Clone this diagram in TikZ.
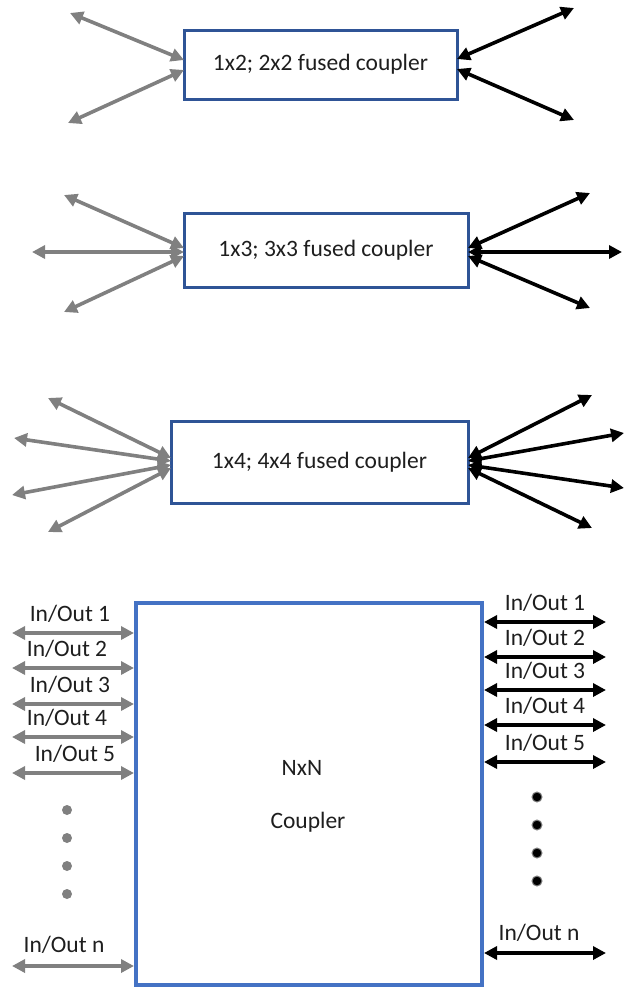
\documentclass[tikz,border=0pt]{standalone}
\usepackage{fontspec}
\setmainfont{Carlito}
\usetikzlibrary{arrows.meta}
\definecolor{boxblue}{RGB}{47,84,150}
\definecolor{bigblue}{RGB}{68,114,196}
\definecolor{arrgray}{RGB}{128,128,128}
\definecolor{txt}{RGB}{30,30,30}
\begin{document}
\begin{tikzpicture}[x=1pt,y=-1pt,
  cbox/.style={draw=boxblue, line width=3pt, inner sep=0pt, text=txt, font=\fontsize{23.5}{28}\selectfont},
  bigbox/.style={draw=bigblue, line width=4pt, inner sep=0pt},
  tip/.tip={Triangle[length=13pt,width=13pt]},
  garr/.style={draw=arrgray, line width=3.6pt, {tip}-{tip}},
  barr/.style={draw=black, line width=3.6pt, {tip}-{tip}},
  lbl/.style={inner sep=0pt, text=txt, font=\fontsize{23.5}{28}\selectfont},
  gdot/.style={circle, fill=arrgray, minimum size=10pt, inner sep=0pt},
  bdot/.style={circle, fill=black, draw=arrgray, line width=1pt, minimum size=10pt, inner sep=0pt}]
\useasboundingbox (0,0) rectangle (628,989);

% ---------- 1x2 coupler ----------
\node[cbox, minimum width=273pt, minimum height=69pt] (b1) at (320.5,64.5) {1x2; 2x2 fused coupler};
\coordinate (b1la) at (70,13);   \coordinate (b1lb) at (68,123);
\coordinate (b1ra) at (574,8);   \coordinate (b1rb) at (574,120);
\coordinate (b1wa) at (184,60);  \coordinate (b1wb) at (184,70);
\coordinate (b1ea) at (457,59);  \coordinate (b1eb) at (457,69);
\draw[garr] (b1la) -- (b1wa);
\draw[garr] (b1lb) -- (b1wb);
\draw[barr] (b1ea) -- (b1ra);
\draw[barr] (b1eb) -- (b1rb);

% ---------- 1x3 coupler ----------
\node[cbox, minimum width=284pt, minimum height=74pt] (b2) at (326,250) {1x3; 3x3 fused coupler};
\coordinate (b2wa) at (184,248); \coordinate (b2wb) at (184,252); \coordinate (b2wc) at (184,256);
\coordinate (b2ea) at (468,248); \coordinate (b2eb) at (468,252); \coordinate (b2ec) at (468,256);
\coordinate (b2la) at (64,195);  \coordinate (b2lb) at (32,252);  \coordinate (b2lc) at (64,312);
\coordinate (b2ra) at (590,193); \coordinate (b2rb) at (622,252); \coordinate (b2rc) at (590,308);
\draw[garr] (b2la) -- (b2wa);
\draw[garr] (b2lb) -- (b2wb);
\draw[garr] (b2lc) -- (b2wc);
\draw[barr] (b2ea) -- (b2ra);
\draw[barr] (b2eb) -- (b2rb);
\draw[barr] (b2ec) -- (b2rc);

% ---------- 1x4 coupler ----------
\node[cbox, minimum width=297pt, minimum height=82pt] (b3) at (319.5,462) {1x4; 4x4 fused coupler};
\coordinate (b3wa) at (171,458); \coordinate (b3wb) at (171,461);
\coordinate (b3wc) at (171,465); \coordinate (b3wd) at (171,468);
\coordinate (b3ea) at (468,458); \coordinate (b3eb) at (468,461);
\coordinate (b3ec) at (468,465); \coordinate (b3ed) at (468,468);
\coordinate (b3la) at (48,398);  \coordinate (b3lb) at (14,438);
\coordinate (b3lc) at (12,495);  \coordinate (b3ld) at (48,532);
\coordinate (b3ra) at (592,395); \coordinate (b3rb) at (624,433);
\coordinate (b3rc) at (624,488); \coordinate (b3rd) at (592,528);
\draw[garr] (b3la) -- (b3wa);
\draw[garr] (b3lb) -- (b3wb);
\draw[garr] (b3lc) -- (b3wc);
\draw[garr] (b3ld) -- (b3wd);
\draw[barr] (b3ea) -- (b3ra);
\draw[barr] (b3eb) -- (b3rb);
\draw[barr] (b3ec) -- (b3rc);
\draw[barr] (b3ed) -- (b3rd);

% ---------- NxN coupler ----------
\node[bigbox, minimum width=346pt, minimum height=382pt] (nn) at (309,794) {};
\node[lbl] (nxn) at (302,768) {NxN};
\node[lbl] (cpl) at (308,822) {Coupler};

% left ports
\foreach \i/\y/\lx in {1/633/70, 2/668/67, 3/704/70, 4/737/67, 5/773/75}{
  \coordinate (L\i) at (12,\y);
  \draw[garr] (L\i) -- (L\i -| nn.west);
  \node[lbl] (ll\i) at (\lx,\y-19) {In/Out \i};
}
\coordinate (Ln) at (12,966);
\draw[garr] (Ln) -- (Ln -| nn.west);
\node[lbl] (lln) at (64,945) {In/Out n};

% right ports
\foreach \i/\y in {1/622, 2/657, 3/690, 4/725, 5/762}{
  \coordinate (R\i) at (606,\y);
  \draw[barr] (R\i -| nn.east) -- (R\i);
  \node[lbl] (rl\i) at (545,\y-19) {In/Out \i};
}
\coordinate (Rn) at (606,953);
\draw[barr] (Rn -| nn.east) -- (Rn);
\node[lbl] (rln) at (539,933) {In/Out n};

% dots
\foreach \i/\y in {1/810, 2/838, 3/866, 4/894}{
  \node[gdot] (gd\i) at (67,\y) {};
}
\foreach \i/\y in {1/797, 2/825, 3/853, 4/881}{
  \node[bdot] (bd\i) at (537,\y) {};
}
\end{tikzpicture}
\end{document}
